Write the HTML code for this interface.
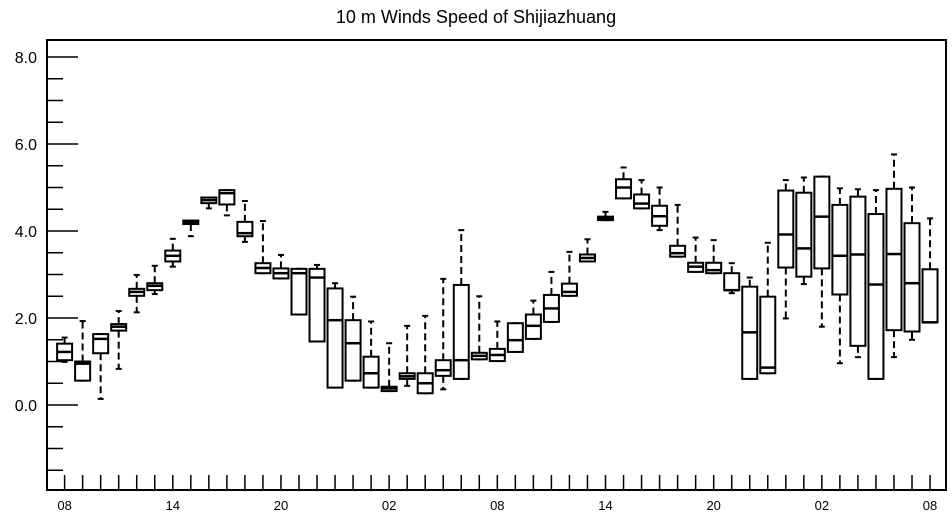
<!DOCTYPE html>
<html><head><meta charset="utf-8"><style>
body{margin:0;background:#fff;}
svg{display:block;font-family:"Liberation Sans",sans-serif;}
</style></head><body>
<svg id="chart" width="952" height="520">
<text x="476" y="23" text-anchor="middle" font-size="18">10 m Winds Speed of Shijiazhuang</text>
<rect x="47" y="40" width="899" height="450" fill="none" stroke="#000" stroke-width="2"/>
<g id="yaxis"></g>
<g id="xaxis"></g>
<g id="boxes"></g>
</svg>
<script>
const hours=[];for(let i=0;i<=48;i++)hours.push(i);
const xTickLabels=["08","14","20","02","08","14","20","02","08"];
const yTickValues=[0,2,4,6,8];
const yTickLabels=["0.0","2.0","4.0","6.0","8.0"];
const mins=[0.99,0.56,0.14,0.83,2.13,2.55,3.18,3.88,4.52,4.36,3.75,3.24,2.91,2.08,1.46,0.4,0.56,0.4,0.32,0.44,0.27,0.36,0.6,1.05,1.01,1.22,1.52,1.91,2.51,3.3,4.25,4.75,4.52,4.02,3.41,3.06,3.03,2.57,0.6,0.73,1.99,2.78,1.8,0.96,1.1,0.6,1.1,1.5,1.9];
const q1s=[1.03,0.56,1.19,1.71,2.51,2.64,3.3,4.16,4.64,4.61,3.88,3.03,2.91,2.08,1.46,0.4,0.56,0.4,0.32,0.6,0.27,0.67,0.6,1.05,1.01,1.22,1.52,1.91,2.51,3.3,4.25,4.75,4.52,4.12,3.41,3.06,3.03,2.64,0.6,0.73,3.16,2.95,3.14,2.54,1.36,0.6,1.72,1.69,1.9];
const medians=[1.22,0.95,1.52,1.8,2.6,2.74,3.43,4.2,4.71,4.87,3.95,3.15,3.03,3.03,2.93,1.95,1.42,0.73,0.38,0.66,0.5,0.8,1.03,1.13,1.15,1.49,1.82,2.22,2.6,3.38,4.29,5.0,4.63,4.34,3.49,3.18,3.1,2.64,1.67,0.86,3.92,3.6,4.33,3.43,3.46,2.77,3.47,2.8,1.9];
const q3s=[1.41,1.0,1.63,1.86,2.67,2.8,3.55,4.24,4.77,4.94,4.21,3.26,3.14,3.13,3.13,2.68,1.95,1.11,0.42,0.73,0.73,1.03,2.76,1.2,1.29,1.88,2.08,2.53,2.79,3.46,4.33,5.19,4.84,4.58,3.66,3.27,3.27,3.03,2.72,2.49,4.93,4.88,5.25,4.6,4.79,4.39,4.97,4.18,3.12];
const maxs=[1.55,1.93,1.63,2.16,2.99,3.2,3.82,4.24,4.77,4.94,4.69,4.23,3.45,3.13,3.22,2.8,2.49,1.92,1.42,1.82,2.05,2.9,4.02,2.5,1.92,1.88,2.4,3.06,3.52,3.81,4.44,5.46,5.17,5.0,4.6,3.85,3.79,3.26,2.93,3.73,5.17,5.23,5.25,4.98,4.96,4.94,5.76,5.0,4.29];
const NS="http://www.w3.org/2000/svg";
const X0=64.6,DX=18.03,Y0=405,YS=43.5,LEFT=47,BOT=490;
function xs(h){return X0+h*DX;}
function ys(v){return Y0-v*YS;}
function mk(tag,attrs,parent){const e=document.createElementNS(NS,tag);for(const k in attrs)e.setAttribute(k,attrs[k]);parent.appendChild(e);return e;}
const ya=document.getElementById('yaxis');
for(let v=-1.5;v<=8.3;v+=0.5){
  const y=ys(v);const major=Math.abs(v-Math.round(v/2)*2)<1e-6;
  const t=mk('line',{x1:LEFT,x2:LEFT+(major?31:16),y1:y,y2:y,stroke:'#000','stroke-width':1.5},ya);
  
  
}
yTickValues.forEach((v,i)=>{
  const t=mk('text',{x:37,y:ys(v)+6,'text-anchor':'end','font-size':16},ya);
  t.textContent=yTickLabels[i];
  
  
});
const xa=document.getElementById('xaxis');
hours.forEach(h=>{
  const x=xs(h);
  const t=mk('line',{x1:x,x2:x,y1:BOT,y2:BOT-15,stroke:'#000','stroke-width':1.5},xa);
  
  
});
xTickLabels.forEach((l,i)=>{
  const t=mk('text',{x:xs(i*6),y:510,'text-anchor':'middle','font-size':13},xa);
  t.textContent=l;
  
  
});
const bg=document.getElementById('boxes');
hours.forEach((h,i)=>{
  const x=xs(h),w=15;
  const g=mk('g',{},bg);
  
  
  const mn=Math.min(mins[i],q1s[i]),mx=Math.max(maxs[i],q3s[i]);
  mk('line',{x1:x,x2:x,y1:ys(q3s[i]),y2:ys(mx),stroke:'#000','stroke-width':2,'stroke-dasharray':'7,4'},g);
  mk('line',{x1:x,x2:x,y1:ys(q1s[i]),y2:ys(mn),stroke:'#000','stroke-width':2,'stroke-dasharray':'7,4'},g);
  mk('line',{x1:x-3,x2:x+3,y1:ys(mx),y2:ys(mx),stroke:'#000','stroke-width':2},g);
  mk('line',{x1:x-3,x2:x+3,y1:ys(mn),y2:ys(mn),stroke:'#000','stroke-width':2},g);
  mk('rect',{x:x-w/2,y:ys(q3s[i]),width:w,height:Math.max(1,ys(q1s[i])-ys(q3s[i])),fill:'#fff',stroke:'#000','stroke-width':2},g);
  mk('line',{x1:x-w/2,x2:x+w/2,y1:ys(medians[i]),y2:ys(medians[i]),stroke:'#000','stroke-width':2.5},g);
});
</script>
</body></html>
